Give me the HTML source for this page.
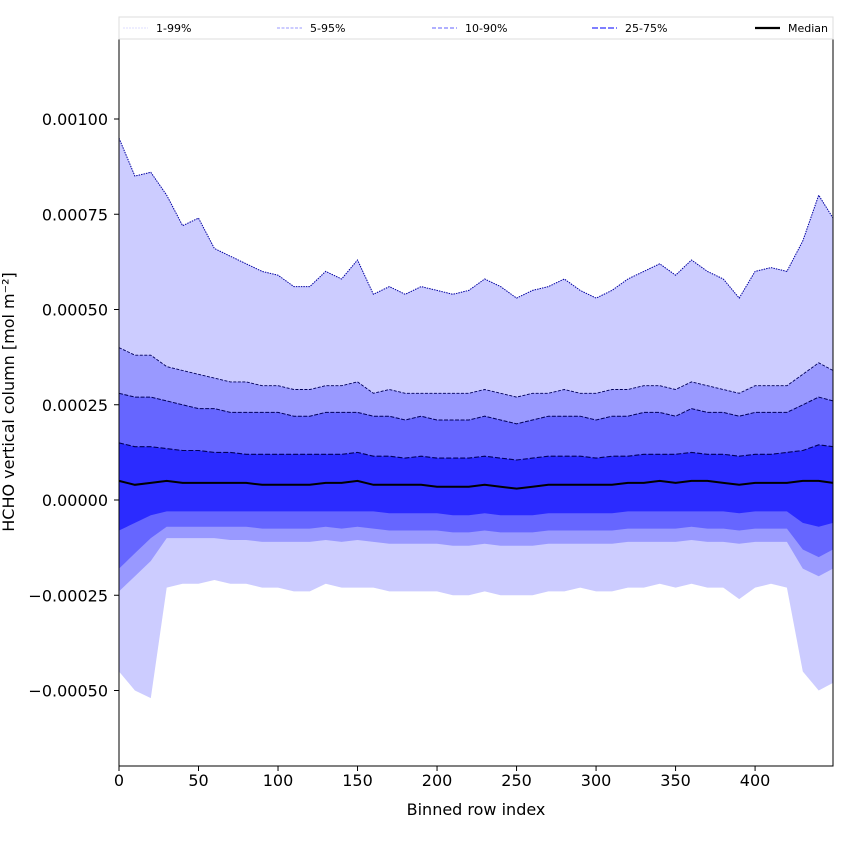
<!DOCTYPE html>
<html><head><meta charset="utf-8"><style>
body{margin:0;background:#fff}
svg text{font-family:"DejaVu Sans","Liberation Sans",sans-serif}
</style></head><body>
<svg id="c" width="850" height="850" xmlns="http://www.w3.org/2000/svg"></svg>
<script>
const xs=[0,10,20,30,40,50,60,70,80,90,100,110,120,130,140,150,160,170,180,190,200,210,220,230,240,250,260,270,280,290,300,310,320,330,340,350,360,370,380,390,400,410,420,430,440,449];
const p99=[9.5,8.5,8.6,8.0,7.2,7.4,6.6,6.4,6.2,6.0,5.9,5.6,5.6,6.0,5.8,6.3,5.4,5.6,5.4,5.6,5.5,5.4,5.5,5.8,5.6,5.3,5.5,5.6,5.8,5.5,5.3,5.5,5.8,6.0,6.2,5.9,6.3,6.0,5.8,5.3,6.0,6.1,6.0,6.8,8.0,7.4];
const p95=[4.0,3.8,3.8,3.5,3.4,3.3,3.2,3.1,3.1,3.0,3.0,2.9,2.9,3.0,3.0,3.1,2.8,2.9,2.8,2.8,2.8,2.8,2.8,2.9,2.8,2.7,2.8,2.8,2.9,2.8,2.8,2.9,2.9,3.0,3.0,2.9,3.1,3.0,2.9,2.8,3.0,3.0,3.0,3.3,3.6,3.4];
const p90=[2.8,2.7,2.7,2.6,2.5,2.4,2.4,2.3,2.3,2.3,2.3,2.2,2.2,2.3,2.3,2.3,2.2,2.2,2.1,2.2,2.1,2.1,2.1,2.2,2.1,2.0,2.1,2.2,2.2,2.2,2.1,2.2,2.2,2.3,2.3,2.2,2.4,2.3,2.3,2.2,2.3,2.3,2.3,2.5,2.7,2.6];
const p75=[1.5,1.4,1.4,1.35,1.3,1.3,1.25,1.25,1.2,1.2,1.2,1.2,1.2,1.2,1.2,1.25,1.15,1.15,1.1,1.15,1.1,1.1,1.1,1.15,1.1,1.05,1.1,1.15,1.15,1.15,1.1,1.15,1.15,1.2,1.2,1.2,1.25,1.2,1.2,1.15,1.2,1.2,1.25,1.3,1.45,1.4];
const med=[0.5,0.4,0.45,0.5,0.45,0.45,0.45,0.45,0.45,0.4,0.4,0.4,0.4,0.45,0.45,0.5,0.4,0.4,0.4,0.4,0.35,0.35,0.35,0.4,0.35,0.3,0.35,0.4,0.4,0.4,0.4,0.4,0.45,0.45,0.5,0.45,0.5,0.5,0.45,0.4,0.45,0.45,0.45,0.5,0.5,0.45];
const p25=[-0.8,-0.6,-0.4,-0.3,-0.3,-0.3,-0.3,-0.3,-0.3,-0.3,-0.3,-0.3,-0.3,-0.3,-0.3,-0.3,-0.3,-0.35,-0.35,-0.35,-0.35,-0.4,-0.4,-0.35,-0.4,-0.4,-0.4,-0.35,-0.35,-0.35,-0.35,-0.35,-0.3,-0.3,-0.3,-0.3,-0.3,-0.3,-0.3,-0.35,-0.3,-0.3,-0.3,-0.6,-0.7,-0.6];
const p10=[-1.8,-1.4,-1.0,-0.7,-0.7,-0.7,-0.7,-0.7,-0.7,-0.75,-0.75,-0.75,-0.75,-0.7,-0.75,-0.7,-0.75,-0.8,-0.8,-0.8,-0.8,-0.85,-0.85,-0.8,-0.85,-0.85,-0.85,-0.8,-0.8,-0.8,-0.8,-0.8,-0.75,-0.75,-0.75,-0.75,-0.7,-0.75,-0.75,-0.8,-0.75,-0.75,-0.75,-1.3,-1.5,-1.3];
const p5=[-2.4,-2.0,-1.6,-1.0,-1.0,-1.0,-1.0,-1.05,-1.05,-1.1,-1.1,-1.1,-1.1,-1.05,-1.1,-1.05,-1.1,-1.15,-1.15,-1.15,-1.15,-1.2,-1.2,-1.15,-1.2,-1.2,-1.2,-1.15,-1.15,-1.15,-1.15,-1.15,-1.1,-1.1,-1.1,-1.1,-1.05,-1.1,-1.1,-1.15,-1.1,-1.1,-1.1,-1.8,-2.0,-1.8];
const p1=[-4.5,-5.0,-5.2,-2.3,-2.2,-2.2,-2.1,-2.2,-2.2,-2.3,-2.3,-2.4,-2.4,-2.2,-2.3,-2.3,-2.3,-2.4,-2.4,-2.4,-2.4,-2.5,-2.5,-2.4,-2.5,-2.5,-2.5,-2.4,-2.4,-2.3,-2.4,-2.4,-2.3,-2.3,-2.2,-2.3,-2.2,-2.3,-2.3,-2.6,-2.3,-2.2,-2.3,-4.5,-5.0,-4.8];
const xTicks=[0,50,100,150,200,250,300,350,400];
const yTicks=[-5,-2.5,0,2.5,5,7.5,10];
const yTickLabels=["\u22120.00050","\u22120.00025","0.00000","0.00025","0.00050","0.00075","0.00100"];
const legendLabels=["1-99%","5-95%","10-90%","25-75%","Median"];

const NS="http://www.w3.org/2000/svg";
const svg=document.getElementById('c');
const L=119,R=833,T=39,B=766;
const X=v=>L+v*(R-L)/449;
const Y=v=>500-v*38.1;
function mk(t,a){const e=document.createElementNS(NS,t);for(const k in a)e.setAttribute(k,a[k]);svg.appendChild(e);return e;}
function pts(arr){return xs.map((x,i)=>X(x).toFixed(1)+','+Y(arr[i]).toFixed(1));}
function band(up,lo,col,name){
  const d='M'+pts(up).join('L')+'L'+pts(lo).reverse().join('L')+'Z';
  const e=mk('path',{d:d,fill:col,stroke:'none'});
  
  
}
band(p99,p1,'#ccccff','band-1-99');
band(p95,p5,'#9999ff','band-5-95');
band(p90,p10,'#6666ff','band-10-90');
band(p75,p25,'#2b2bff','band-25-75');
function line(arr,col,w,dash,name){
  const e=mk('polyline',{points:pts(arr).join(' '),fill:'none',stroke:col,'stroke-width':w,'stroke-dasharray':dash});
  
  
}
line(p99,'#0000a0',1,'1.5,1','line-p99');
line(p95,'#00005a',0.9,'3,1.5','line-p95');
line(p90,'#00005a',1,'4,1.5','line-p90');
line(p75,'#00005a',1.1,'5,2','line-p75');
line(med,'#000',2,'none','line-median');
mk('rect',{x:L,y:T,width:R-L,height:B-T,fill:'none',stroke:'#000','stroke-width':1,});
xTicks.forEach(t=>{
  const e=mk('line',{x1:X(t),x2:X(t),y1:B,y2:B+5,stroke:'#000'});
  
  
  const tx=mk('text',{x:X(t),y:B+20,'text-anchor':'middle','font-size':16});
  tx.textContent=t;
  
  
});
yTicks.forEach((t,i)=>{
  const e=mk('line',{x1:L-5,x2:L,y1:Y(t),y2:Y(t),stroke:'#000'});
  
  
  const tx=mk('text',{x:L-11,y:Y(t)+6,'text-anchor':'end','font-size':16});
  tx.textContent=yTickLabels[i];
  
  
});
const xl=mk('text',{x:476,y:815,'text-anchor':'middle','font-size':16,});xl.textContent='Binned row index';
const yl=mk('text',{x:0,y:0,'text-anchor':'middle','font-size':16,transform:'translate(14,402) rotate(-90)',});yl.textContent='HCHO vertical column [mol m\u207b\u00b2]';
mk('rect',{x:119,y:17,width:714,height:22,fill:'#fff',stroke:'#ddd',});
const lx=[123,277,432,592,755];
const lc=['#ddddff','#9999ff','#8080ff','#5555ff','#000'];
const lw=[1,1,1.2,1.6,2.2];
const ld=['2,1','3,1.5','4,2','6,2','none'];
legendLabels.forEach((lab,i)=>{
  const e=mk('line',{x1:lx[i],x2:lx[i]+25,y1:28,y2:28,stroke:lc[i],'stroke-width':lw[i],'stroke-dasharray':ld[i]});
  
  
  const tx=mk('text',{x:lx[i]+33,y:32,'font-size':11});
  tx.textContent=lab;
  
  
});
</script>
</body></html>
